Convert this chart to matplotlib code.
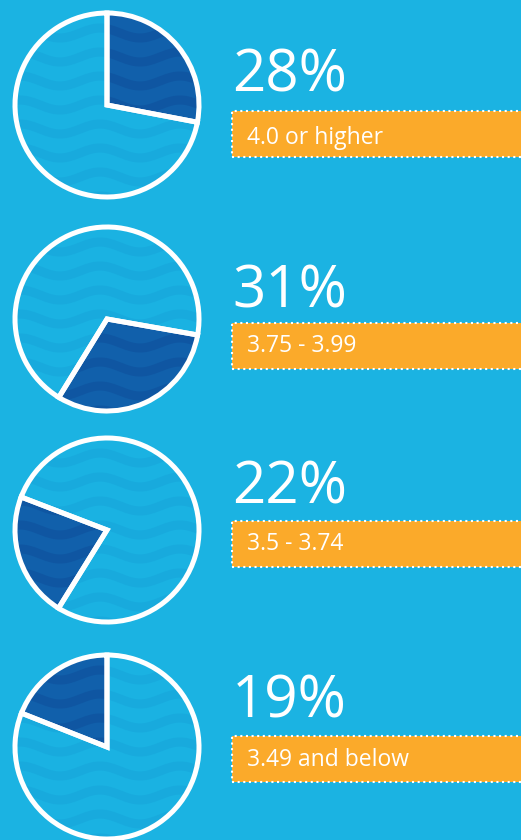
import numpy as np
import matplotlib
matplotlib.use("Agg")
import matplotlib.pyplot as plt
import matplotlib.patches as mpatches

# ==== data ====
shares = [28, 31, 22, 19]
ranges = ["4.0 or higher", "3.75 - 3.99", "3.5 - 3.74", "3.49 and below"]

# ==== layout (pixels, top-down) ====
W, H = 521, 840
pie_cy = [105, 319, 530, 747]
pie_cx = 107
pie_r = 92
start_angles = [90, -10, 159, 90]
counterclock = [False, False, True, True]
pct_base = [92, 307, 503, 718]
bar_top = [111, 323, 521, 736]
bar_h = 46
lab_base = [144, 352, 550, 766]

bg = "#1bb3e2"
light = "#1ab2e2"
light_wave = "#18aadd"
dark = "#1160ab"
dark_wave = "#0f56a2"
orange = "#fbaa2a"

plt.rcParams['font.family'] = ['Open Sans', 'DejaVu Sans']

fig = plt.figure(figsize=(W / 100, H / 100), dpi=100, facecolor=bg)
ax = fig.add_axes([0, 0, 1, 1])
ax.set_facecolor(bg)

def Y(y):
    return H - y

# wave texture coordinates
wx = np.linspace(0, 230, 400)

for i in range(4):
    cy = Y(pie_cy[i])
    wedges, _ = ax.pie([shares[i], 100 - shares[i]], colors=[dark, light],
                       startangle=start_angles[i], counterclock=counterclock[i],
                       center=(pie_cx, cy), radius=pie_r,
                       wedgeprops=dict(edgecolor="none", linewidth=0))
    # wavy texture clipped to each wedge
    for w, wc in zip(wedges, [dark_wave, light_wave]):
        for k in range(-5, 6):
            yy = cy + k * 24 + 5 * np.sin(2 * np.pi * wx / 80)
            ln, = ax.plot(wx, yy, color=wc, lw=6.5, solid_capstyle="butt", zorder=2)
            ln.set_clip_path(w)
    # white outline and separators
    ax.pie([shares[i], 100 - shares[i]], colors=["none", "none"],
           startangle=start_angles[i], counterclock=counterclock[i],
           center=(pie_cx, cy), radius=pie_r,
           wedgeprops=dict(edgecolor="white", linewidth=3.6, zorder=3))

    # percentage text
    ax.text(232, Y(pct_base[i]), f"{shares[i]}%", color="white",
            fontsize=42, va="baseline", ha="left")

    # orange label bar with dotted border
    bar = mpatches.Rectangle((232, Y(bar_top[i] + bar_h)), 300, bar_h,
                             facecolor=orange, edgecolor="white", linewidth=1.5,
                             linestyle=(0, (1.0, 1.7)), zorder=4)
    ax.add_patch(bar)
    ax.text(247, Y(lab_base[i]), ranges[i], color="white", fontsize=16.5,
            va="baseline", ha="left", zorder=5)

ax.set_xlim(0, W)
ax.set_ylim(0, H)
ax.set_aspect("auto")
ax.axis("off")

plt.savefig("out.png", dpi=100, facecolor=bg)
